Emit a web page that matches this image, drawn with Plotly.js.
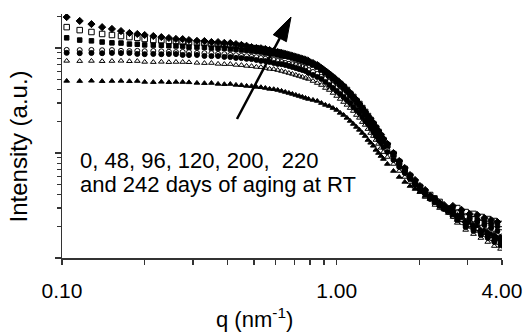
<!DOCTYPE html>
<html>
<head>
<meta charset="utf-8">
<script src="https://cdn.plot.ly/plotly-3.0.1.min.js"></script>
<style>html,body{margin:0;padding:0;background:#fff;}#chart{width:526px;height:333px;}</style>
</head>
<body>
<div id="chart"></div>
<script>
// scattering vector q (nm^-1)
const q = [0.104,0.116,0.128,0.140,0.152,0.164,0.176,0.188,0.200,0.215,0.230,0.245,0.260,0.275,0.290,
0.31,0.33,0.35,0.37,0.39,0.41,0.43,0.45,0.47,0.49,0.51,0.53,0.55,0.57,0.59,0.61,0.63,0.65,0.67,0.69,0.71,0.73,0.75,0.77,0.79,
0.82,0.85,0.88,0.91,0.94,0.97,1.00,1.03,1.06,1.09,1.12,1.15,1.18,1.21,1.24,1.27,1.30,1.33,1.36,1.39,1.42,1.45,1.48,
1.53,1.61,1.69,1.77,1.85,1.93,2.01,2.10,2.19,2.28,2.37,2.46,2.55,2.65,2.75,2.85,2.95,3.05,3.15,3.25,3.35,3.45,3.55,3.65,3.75,3.85,3.95];

// intensities (a.u.) per aging time
const int0d = [48.6,48.4,48.7,48.3,48.5,48.6,48.2,48.5,47.5,47.3,47.6,47.2,47.5,47.4,47.1,
46.5,46.2,46.4,45.5,45.2,45.4,44.5,44.2,43.5,43.3,42.6,42.3,41.6,40.8,40.5,39.8,39.0,38.1,37.3,36.5,35.7,34.9,34.2,33.4,32.7,
32.0,31.3,29.9,28.7,28.0,26.8,25.7,24.1,23.0,21.6,20.2,18.9,17.7,16.6,15.5,14.5,13.3,12.5,11.7,10.7,10.0,9.36,8.77,
7.86,6.74,5.91,5.30,4.85,4.54,4.25,3.90,3.65,3.34,3.20,3.06,2.80,2.57,2.30,2.41,2.11,2.16,1.93,2.02,1.77,1.85,1.62,1.69,1.49,1.55,1.30];
const int48d = [75.4,75.0,75.3,74.9,75.2,75.5,74.8,75.1,73.7,73.4,73.8,73.3,73.6,73.5,73.2,
72.2,71.8,71.9,70.6,70.2,70.3,69.0,68.7,67.5,67.2,66.0,65.7,64.5,63.2,62.9,61.7,60.4,59.1,57.8,56.6,55.3,54.1,53.0,51.8,50.7,
48.5,46.4,44.4,41.6,39.8,37.3,34.9,32.7,30.6,28.7,26.8,25.1,23.0,21.6,19.7,18.5,16.9,15.5,14.5,13.3,12.2,11.2,10.2,
9.16,7.86,6.74,5.91,5.30,4.75,4.25,3.81,3.65,3.20,2.99,3.13,2.68,2.46,2.16,2.30,1.85,2.02,1.69,1.89,1.55,1.73,1.42,1.62,1.30,1.52,1.22];
const int96d = [89.9,89.3,89.7,89.2,89.8,89.4,89.5,87.9,87.4,87.8,87.3,87.6,87.5,85.9,85.6,
85.8,84.1,83.7,83.9,82.3,81.9,80.5,80.1,78.8,78.4,76.9,75.4,75.0,73.6,72.0,70.6,70.2,68.9,67.4,65.9,64.5,63.1,61.7,60.4,57.8,
55.3,53.0,50.7,47.5,44.4,41.6,39.0,36.5,34.2,32.0,29.9,27.4,25.7,24.1,22.0,20.2,18.9,17.3,15.9,14.5,13.3,12.5,11.4,
10.2,8.58,7.36,6.45,5.66,4.96,4.44,4.07,3.65,3.49,3.13,2.93,2.99,2.74,2.30,2.57,1.97,2.35,1.81,2.20,1.66,2.06,1.55,1.93,1.42,1.81,1.36];
const int120d = [95.9,95.4,95.8,95.2,95.5,94.0,93.4,93.9,93.2,93.7,93.0,92.1,91.4,91.8,91.2,
89.8,89.4,89.1,87.9,87.4,86.0,85.5,84.1,83.6,82.3,81.8,80.3,78.8,78.3,76.9,75.2,73.6,72.0,70.6,70.1,68.9,67.4,65.9,64.5,61.7,
59.1,56.6,53.0,50.7,47.5,44.4,41.6,39.0,36.5,34.2,32.0,29.3,27.4,25.1,23.5,21.6,19.7,18.1,16.9,15.5,14.2,13.0,11.9,
10.7,8.96,7.69,6.59,5.78,5.07,4.54,4.16,3.90,3.42,3.34,2.99,2.74,2.51,2.74,2.20,2.51,2.02,2.35,1.85,2.16,1.69,2.02,1.55,1.89,1.42,1.77];
const int200d = [125,119,117,114,112,111.5,109,108.6,107,106.6,106.2,105,104.6,104.2,102,
102,101.6,100,99.7,99.4,97.8,97.4,95.7,95.3,93.6,93.2,91.6,89.6,89.2,87.7,85.8,83.9,83.5,82.1,80.3,78.6,76.9,75.2,73.6,72.0,
68.9,65.9,61.7,57.8,54.1,50.7,47.5,44.4,41.6,39.0,35.7,33.4,30.6,28.7,26.3,24.1,22.0,20.2,18.5,16.9,15.5,14.2,13.0,
11.7,9.57,8.03,6.89,5.91,5.18,4.64,4.35,3.81,3.73,3.20,3.06,2.80,2.93,2.41,2.68,2.06,2.46,1.93,2.30,1.77,2.20,1.66,2.11,1.52,2.02,1.45];
const int220d = [158,148,142,136,133,130,127,125,122,119,118.5,117,116,114,113.5,
112,111.5,109,108.5,107,106.5,105,104.5,102,100,99.6,97.8,95.7,93.6,91.6,91.2,89.6,87.7,85.8,83.9,82.1,80.3,78.6,76.9,73.6,
70.4,67.4,63.1,59.1,55.3,51.8,48.5,45.4,42.5,39.8,36.5,34.2,31.3,29.3,26.8,24.6,22.5,20.6,18.9,17.3,15.9,14.5,13.3,
11.9,9.78,8.21,7.04,6.04,5.30,4.75,4.25,3.98,3.49,3.42,2.99,2.93,2.63,2.99,2.35,2.74,2.11,2.63,1.93,2.46,1.77,2.35,1.66,2.25,1.55,2.11];
const int242d = [197,181,169,158,152,145,139,136,133,130,127,124.5,122,121.5,119,
117,116.5,114,113.8,112,111.5,109,107,105,102,100,99.5,97.8,95.7,93.6,91.6,89.6,87.7,85.8,83.9,82.1,80.3,78.6,76.9,75.2,
72.0,68.9,64.5,60.4,56.6,53.0,49.6,46.4,43.5,39.8,37.3,34.2,32.0,29.3,26.8,24.6,22.5,21.1,19.3,17.7,16.2,14.9,13.6,
12.2,10.0,8.39,7.20,6.17,5.53,4.85,4.44,3.90,3.65,3.34,3.20,2.87,3.13,2.51,2.87,2.20,2.63,2.02,2.57,1.81,2.41,1.73,2.30,1.62,2.20,1.55];

const seriesNames = ['0 days','48 days','96 days','120 days','200 days','220 days','242 days'];
const seriesData = [int0d, int48d, int96d, int120d, int200d, int220d, int242d];
const seriesSymbols = ['triangle-up','triangle-up-open','circle','circle-open','square','square-open','diamond'];
const seriesSizes = [5,5,5,5,4.5,5.5,5.5];

// ticks
const xTickVals = [0.1, 1, 4];
const xTickText = ['0.10', '1.00', '4.00'];
const xMinorVals = [0.2,0.3,0.4,0.5,0.6,0.7,0.8,0.9,2,3];
const yTickVals = [1, 10, 100];
const yMinorVals = [2,3,4,5,6,7,8,9,20,30,40,50,60,70,80,90,200];

const FONT = 'Liberation Sans, Arial, sans-serif';

const traces = seriesData.map((ys, i) => ({
  x: q, y: ys, type: 'scatter', mode: 'markers', name: seriesNames[i],
  marker: {symbol: seriesSymbols[i], size: seriesSizes[i], color: '#000',
           line: {color: '#000', width: 1}},
  showlegend: false, hoverinfo: 'skip'
}));

const layout = {
  width: 526, height: 333,
  margin: {l: 62, r: 24, t: 14, b: 75, pad: 0},
  paper_bgcolor: '#fff', plot_bgcolor: '#fff',
  font: {family: FONT, size: 21, color: '#000'},
  xaxis: {
    type: 'log', range: [-1, Math.log10(4)],
    tickmode: 'array', tickvals: xTickVals, ticktext: xTickText,
    ticks: 'outside', ticklen: 5, tickwidth: 1.2, tickcolor: '#333',
    minor: {tickmode: 'array', tickvals: xMinorVals, ticks: 'outside', ticklen: 5, tickwidth: 1.2, tickcolor: '#333', showgrid: false},
    showline: true, linecolor: '#333', linewidth: 1.5,
    showgrid: false, zeroline: false,
    tickfont: {family: FONT, size: 21, color: '#000'},
    ticklabelstandoff: 8
  },
  yaxis: {
    type: 'log', range: [0, 244/105],
    tickmode: 'array', tickvals: yTickVals, showticklabels: false,
    ticks: 'outside', ticklen: 6, tickwidth: 1.2, tickcolor: '#333',
    minor: {tickmode: 'array', tickvals: yMinorVals, ticks: 'outside', ticklen: 4, tickwidth: 1.2, tickcolor: '#333', showgrid: false},
    showline: true, linecolor: '#333', linewidth: 1.5,
    showgrid: false, zeroline: false
  },
  annotations: [
    {xref: 'paper', yref: 'paper', x: 0.4364, y: -0.246, xanchor: 'center', yanchor: 'middle',
     text: 'q (nm<sup>-1</sup>)', showarrow: false, font: {family: FONT, size: 22, color: '#000'}},
    {xref: 'paper', yref: 'paper', x: -0.1, y: 0.457, xanchor: 'center', yanchor: 'middle', textangle: -90,
     text: 'Intensity (a.u.)', showarrow: false, font: {family: FONT, size: 24, color: '#000'}},
    {xref: 'paper', yref: 'paper', x: 0.0364, y: 0.4, xanchor: 'left', yanchor: 'middle',
     text: '0, 48, 96, 120, 200,\u00A0 220', showarrow: false, font: {family: FONT, size: 22, color: '#000'}},
    {xref: 'paper', yref: 'paper', x: 0.0364, y: 0.302, xanchor: 'left', yanchor: 'middle',
     text: 'and 242 days of aging at RT', showarrow: false, font: {family: FONT, size: 22, color: '#000'}}
  ],
  shapes: [
    {type: 'line', xref: 'paper', yref: 'paper', x0: 0.3977, y0: 0.5697, x1: 0.495, y1: 0.9008,
     line: {color: '#000', width: 2.5}},
    {type: 'path', xref: 'paper', yref: 'paper', path: 'M0.5205,0.9877 L0.480,0.9152 L0.510,0.8865 Z',
     fillcolor: '#000', line: {color: '#000', width: 1}}
  ]
};

Plotly.newPlot('chart', traces, layout, {displayModeBar: false, staticPlot: true});
</script>
</body>
</html>
